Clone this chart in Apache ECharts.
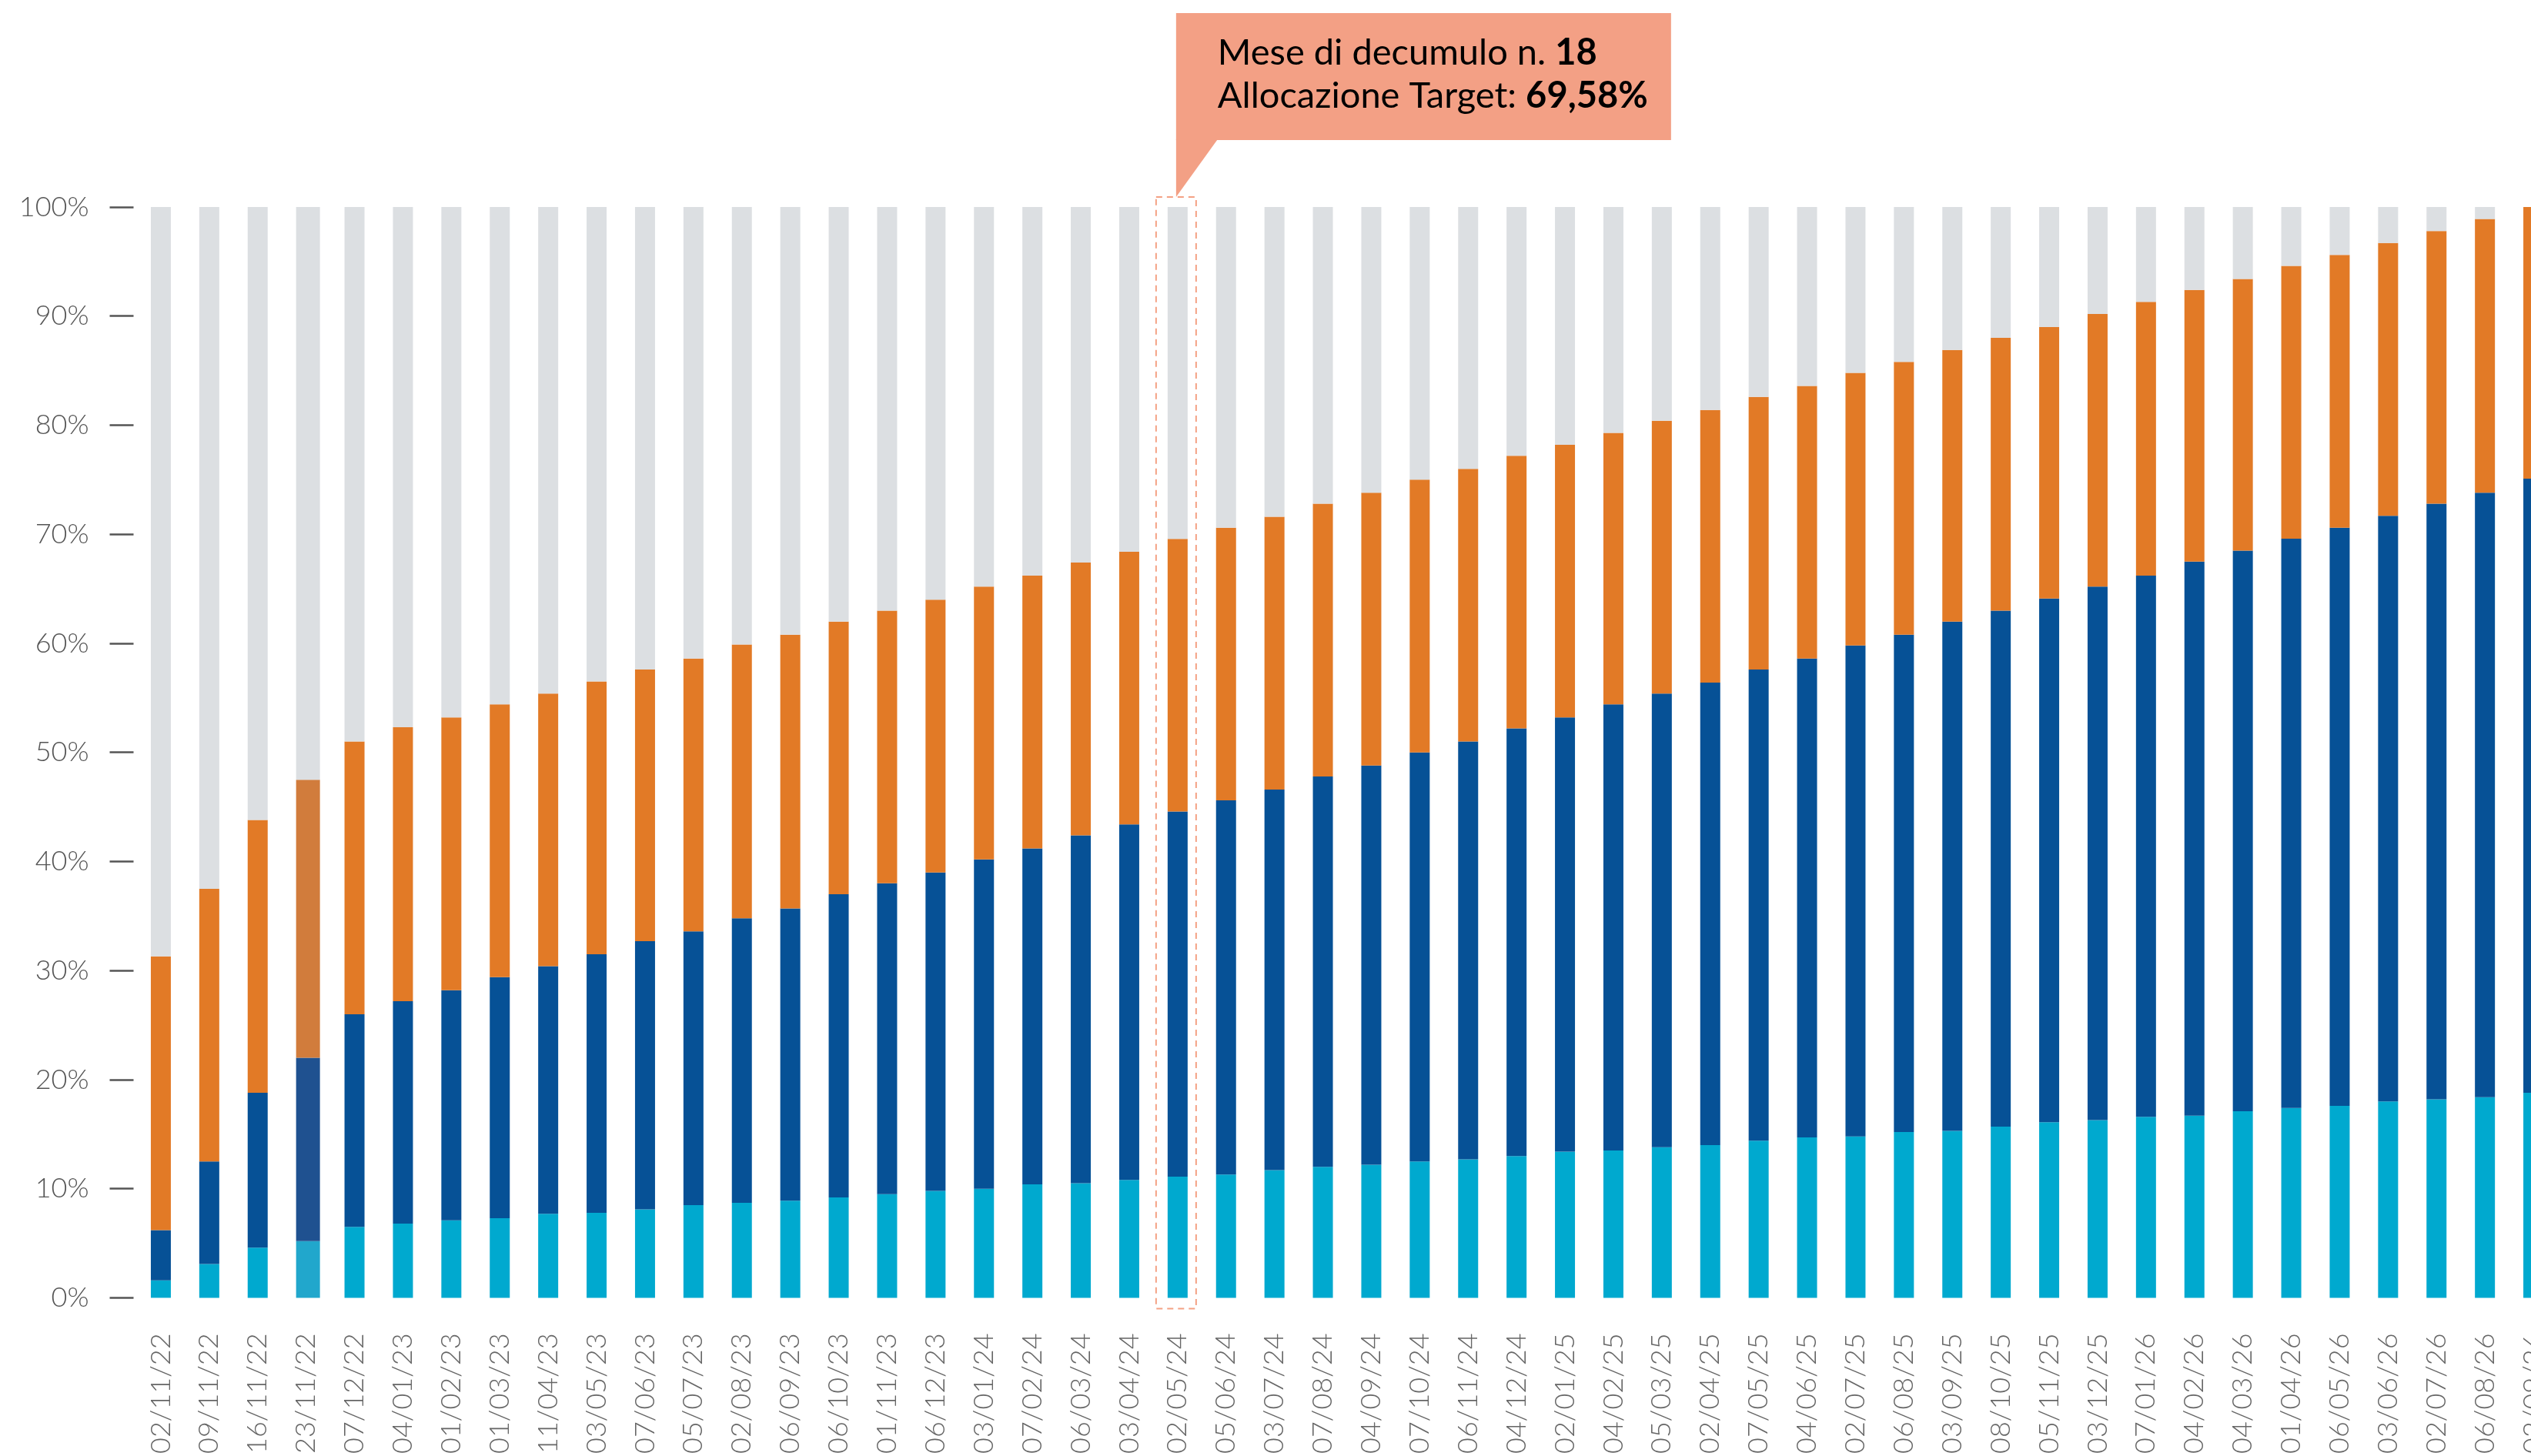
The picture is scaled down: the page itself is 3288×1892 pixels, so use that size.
<!DOCTYPE html>
<html>
<head>
<meta charset="utf-8">
<script src="https://cdn.jsdelivr.net/npm/echarts@6/dist/echarts.min.js"></script>
<style>
html, body { margin: 0; padding: 0; overflow: hidden; background: #fff; }
#chart { width: 3323px; height: 1892px; }
</style>
</head>
<body>
<div id="chart"></div>
<script>
const categorie = ['02/11/22', '09/11/22', '16/11/22', '23/11/22', '07/12/22', '04/01/23', '01/02/23', '01/03/23', '11/04/23', '03/05/23',
  '07/06/23', '05/07/23', '02/08/23', '06/09/23', '06/10/23', '01/11/23', '06/12/23', '03/01/24', '07/02/24', '06/03/24',
  '03/04/24', '02/05/24', '05/06/24', '03/07/24', '07/08/24', '04/09/24', '07/10/24', '06/11/24', '04/12/24', '02/01/25',
  '04/02/25', '05/03/25', '02/04/25', '07/05/25', '04/06/25', '02/07/25', '06/08/25', '03/09/25', '08/10/25', '05/11/25',
  '03/12/25', '07/01/26', '04/02/26', '04/03/26', '01/04/26', '06/05/26', '03/06/26', '02/07/26', '06/08/26', '02/09/26']

// quote in %, dal basso verso l'alto
const azzurro = [1.6, 3.1, 4.6, 5.2, 6.5, 6.8, 7.1, 7.3, 7.7, 7.8, 8.1, 8.5, 8.7, 8.9, 9.2, 9.5, 9.8, 10.0, 10.4, 10.5,
  10.8, 11.1, 11.3, 11.7, 12.0, 12.2, 12.5, 12.7, 13.0, 13.4, 13.5, 13.8, 14.0, 14.4, 14.7, 14.8, 15.2, 15.3, 15.7, 16.1,
  16.3, 16.6, 16.7, 17.1, 17.4, 17.6, 18.0, 18.2, 18.4, 18.8]
const blu = [4.6, 9.4, 14.2, 16.8, 19.5, 20.4, 21.1, 22.1, 22.7, 23.7, 24.6, 25.1, 26.1, 26.8, 27.8, 28.5, 29.2, 30.2, 30.8, 31.9,
  32.6, 33.48, 34.3, 34.9, 35.8, 36.6, 37.5, 38.3, 39.2, 39.8, 40.9, 41.6, 42.4, 43.2, 43.9, 45.0, 45.6, 46.7, 47.3, 48.0,
  48.9, 49.6, 50.8, 51.4, 52.2, 53.0, 53.7, 54.6, 55.4, 56.3]
const arancio = [25.1, 25.0, 25.0, 25.5, 25.0, 25.1, 25.0, 25.0, 25.0, 25.0, 24.9, 25.0, 25.1, 25.1, 25.0, 25.0, 25.0, 25.0, 25.0, 25.0,
  25.0, 25.0, 25.0, 25.0, 25.0, 25.0, 25.0, 25.0, 25.0, 25.0, 24.9, 25.0, 25.0, 25.0, 25.0, 25.0, 25.0, 24.9, 25.0, 24.9,
  25.0, 25.1, 24.9, 24.9, 25.0, 25.0, 25.0, 25.0, 25.1, 24.9]
const grigio = [68.7, 62.5, 56.2, 52.5, 49.0, 47.7, 46.8, 45.6, 44.6, 43.5, 42.4, 41.4, 40.1, 39.2, 38.0, 37.0, 36.0, 34.8, 33.8, 32.6,
  31.6, 30.42, 29.4, 28.4, 27.2, 26.2, 25.0, 24.0, 22.8, 21.8, 20.7, 19.6, 18.6, 17.4, 16.4, 15.2, 14.2, 13.1, 12.0, 11.0,
  9.8, 8.7, 7.6, 6.6, 5.4, 4.4, 3.3, 2.2, 1.1, 0]
const yTicks = [0, 10, 20, 30, 40, 50, 60, 70, 80, 90, 100]

const meseEvidenziato = 21
const numeroMese = '18'
const allocazioneTarget = '69,58%'
const barraDiversa = 3

const font = 'Lato, "Open Sans", sans-serif'

// la barra del 23/11/22 ha tinte diverse ed e' un po' piu' larga: va in uno stack a parte
function serie(name, values, color, speciale) {
  return {
    name: name,
    type: 'bar',
    stack: speciale ? 'speciale' : 'tot',
    barWidth: speciale ? 31 : 26,
    barGap: '-100%',
    itemStyle: { color: color },
    emphasis: { disabled: true },
    data: values.map((v, i) => (i === barraDiversa) === speciale ? v : '-')
  }
}

const chart = echarts.init(document.getElementById('chart'))
chart.setOption({
  animation: false,
  grid: { left: 177.5, right: 0.5, top: 269, bottom: 204 },
  xAxis: {
    type: 'category',
    data: categorie,
    axisLine: { show: false },
    axisTick: { show: false },
    axisLabel: {
      interval: 0,
      rotate: 90,
      margin: 46,
      fontSize: 36,
      fontFamily: font,
      fontWeight: 300,
      color: '#666'
    }
  },
  yAxis: {
    type: 'value',
    min: yTicks[0],
    max: yTicks[yTicks.length - 1],
    interval: 10,
    offset: 4,
    splitLine: { show: false },
    axisLine: { show: false },
    axisTick: { show: true, length: 31, lineStyle: { color: '#555', width: 2.5 } },
    axisLabel: {
      margin: 58,
      fontSize: 36,
      fontFamily: font,
      fontWeight: 300,
      color: '#555',
      formatter: '{value}%'
    }
  },
  series: [
    serie('Liquidità*', azzurro, '#21A7CC', true),
    serie('Obbligazionario*', blu, '#1F5190', true),
    serie('Azionario*', arancio, '#D17C3C', true),
    serie('Residuo*', grigio, '#DCDFE2', true),
    serie('Liquidità', azzurro, '#00A9CF', false),
    serie('Obbligazionario', blu, '#065196', false),
    serie('Azionario', arancio, '#E27A26', false),
    serie('Residuo', grigio, '#DCDFE2', false)
  ]
})

// callout agganciato alla barra del mese evidenziato
const [cx, yTop] = chart.convertToPixel({ xAxisIndex: 0, yAxisIndex: 0 }, [meseEvidenziato, 100])
const yBase = chart.convertToPixel({ yAxisIndex: 0 }, 0)
const boxTop = 17
const boxBottom = 182
const rectTop = yTop - 13
const testo = {
  n: { fontSize: 47, fontFamily: font, color: '#1a1a1a' },
  b: { fontSize: 47, fontFamily: font, fontWeight: 'bold', color: '#1a1a1a' }
}
chart.setOption({
  graphic: [
    {
      type: 'rect',
      z: 100,
      shape: { x: cx - 28, y: rectTop, width: 52, height: yBase + 14 - rectTop },
      style: { fill: 'none', stroke: '#F4A184', lineWidth: 2, lineDash: [8, 6] }
    },
    {
      type: 'rect',
      z: 100,
      shape: { x: cx - 2, y: boxTop, width: 643, height: boxBottom - boxTop },
      style: { fill: '#F3A085' }
    },
    {
      type: 'polygon',
      z: 100,
      shape: { points: [[cx - 2, boxBottom - 1], [cx + 52, boxBottom - 1], [cx - 2, rectTop]] },
      style: { fill: '#F3A085' }
    },
    {
      type: 'text',
      z: 101,
      x: cx + 52,
      y: 69,
      style: { text: '{n|Mese di decumulo n. }{b|' + numeroMese + '}', verticalAlign: 'middle', rich: testo }
    },
    {
      type: 'text',
      z: 101,
      x: cx + 52,
      y: 125,
      style: { text: '{n|Allocazione Target: }{b|' + allocazioneTarget + '}', verticalAlign: 'middle', rich: testo }
    }
  ]
})
</script>
</body>
</html>
